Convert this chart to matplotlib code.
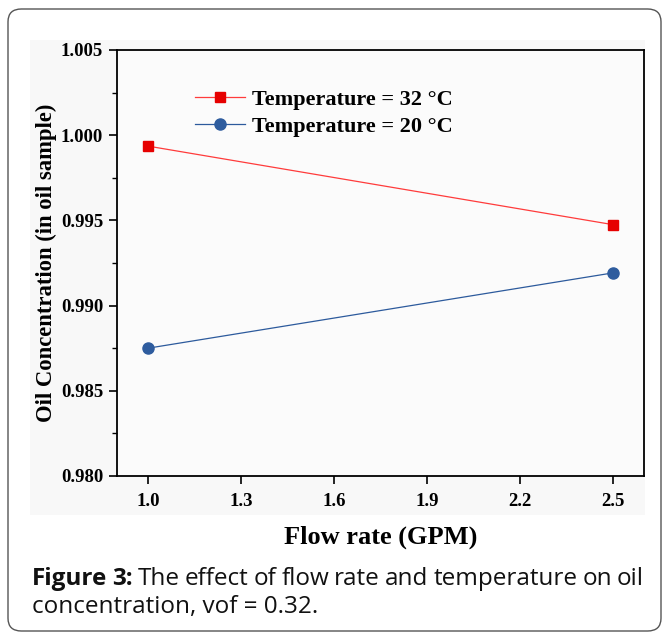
import matplotlib
matplotlib.use("Agg")
import matplotlib.pyplot as plt
from matplotlib.patches import FancyBboxPatch, Rectangle
from matplotlib.ticker import MultipleLocator

# ── data ──────────────────────────────────────────────────────────────────────
flow_rate = [1.0, 2.5]
conc_32 = [0.99936, 0.99475]
conc_20 = [0.98750, 0.99192]
series_labels = ["Temperature = 32 °C", "Temperature = 20 °C"]
x_ticks = [1.0, 1.3, 1.6, 1.9, 2.2, 2.5]
y_ticks = [0.980, 0.985, 0.990, 0.995, 1.000, 1.005]
caption_line1 = "The effect of flow rate and temperature on oil"
caption_line2 = "concentration, vof = 0.32."

W, H = 669, 639
fig = plt.figure(figsize=(W / 100, H / 100), dpi=100)
fig.patch.set_facecolor("white")

# outer rounded frame
frame = FancyBboxPatch((8 / W, 8 / H), 653 / W, 622 / H,
                       boxstyle="round,pad=0,rounding_size=0.02",
                       transform=fig.transFigure, fill=False,
                       edgecolor="#555555", linewidth=1.0, zorder=-1)
fig.patches.append(frame)

# faint grey backdrop of the pasted chart image
fig.patches.append(Rectangle((30 / W, 1 - 515 / H), 615 / W, 475 / H,
                             transform=fig.transFigure, facecolor="#f8f8f8",
                             edgecolor="none", zorder=-1))

ax = fig.add_axes([117 / W, 1 - 476 / H, 527 / W, 426 / H])
ax.set_zorder(1)
ax.set_facecolor("#fbfbfb")

serif = "Liberation Serif"
ax.plot(flow_rate, conc_32, color="#ff3b3b", lw=0.9, marker="s", ms=6.5,
        mfc="#e60000", mec="#e60000", label=series_labels[0])
ax.plot(flow_rate, conc_20, color="#2c5a9c", lw=0.9, marker="o", ms=8,
        mfc="#2e5c9e", mec="#2e5c9e", label=series_labels[1])

ax.set_xlim(0.9, 2.6)
ax.set_ylim(0.980, 1.005)
ax.set_xticks(x_ticks)
ax.set_yticks(y_ticks)
ax.set_xticklabels([f"{v:.1f}" for v in x_ticks])
ax.set_yticklabels([f"{v:.3f}" for v in y_ticks])
ax.yaxis.set_minor_locator(MultipleLocator(0.0025))
ax.tick_params(axis="both", which="major", direction="out", length=6, width=1.2,
               labelsize=13.5, pad=4)
ax.tick_params(axis="x", which="major", pad=6)
ax.tick_params(axis="y", which="minor", direction="out", length=3.5, width=1.0)
for lab in ax.get_xticklabels() + ax.get_yticklabels():
    lab.set_fontfamily(serif)
    lab.set_fontweight("bold")
for sp in ax.spines.values():
    sp.set_linewidth(1.3)

ax.set_xlabel("Flow rate (GPM)", fontfamily=serif, fontweight="bold",
              fontsize=19, labelpad=11.5)
ax.set_ylabel("Oil Concentration (in oil sample)", fontfamily=serif,
              fontweight="bold", fontsize=16.3, labelpad=2.5)

leg = ax.legend(loc="upper left", bbox_to_anchor=(0.11, 0.955), frameon=False,
                prop={"family": serif, "weight": "bold", "size": 16},
                handlelength=2.25, handletextpad=0.3, labelspacing=0.3)

# ── caption, justified on the first line ──────────────────────────────────────
cap_font = "Open Sans"
cap_size = 17.5
left_px, right_px = 32, 644
y1 = 1 - 585 / H
y2 = 1 - 613 / H
words = [("Figure", "bold"), ("3:", "bold")] + [(w, "normal") for w in caption_line1.split()]
fig.canvas.draw()
renderer = fig.canvas.get_renderer()
texts = []
widths = []
for w, weight in words:
    t = fig.text(0, y1, w, fontfamily=cap_font, fontweight=weight,
                 fontsize=cap_size, color="#111111", va="baseline")
    texts.append(t)
    widths.append(t.get_window_extent(renderer).width)
gap = ((right_px - left_px) - sum(widths)) / (len(words) - 1)
x = left_px
for t, wd in zip(texts, widths):
    t.set_x(x / W)
    x += wd + gap
fig.text(left_px / W, y2, caption_line2, fontfamily=cap_font, fontsize=cap_size,
         color="#111111", va="baseline")

fig.savefig("out.png", dpi=100)
